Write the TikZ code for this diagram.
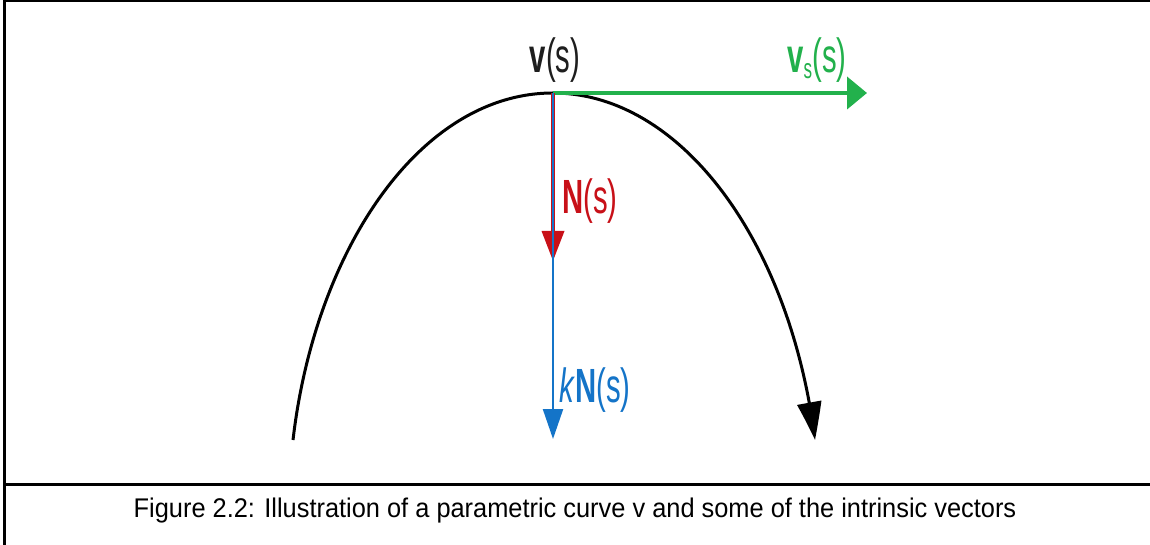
\documentclass[tikz,border=0pt]{standalone}
\usepackage{fontspec}
\setmainfont{Liberation Sans}
\usetikzlibrary{arrows.meta,bending}
\definecolor{vgreen}{RGB}{34,177,76}
\definecolor{nred}{RGB}{200,16,24}
\definecolor{kblue}{RGB}{20,116,200}
\definecolor{lblack}{RGB}{30,30,30}
\tikzset{
  lbl/.style={inner sep=0pt,font=\fontsize{48}{56}\selectfont},
  frameline/.style={line width=2.5pt,black},
}
\newcommand{\nar}[1]{\scalebox{0.61}[1]{#1}}
\begin{document}
\begin{tikzpicture}[x=1pt,y=-1pt]
\useasboundingbox (0,0) rectangle (1150,545);
\fill[white] (0,0) rectangle (1150,545);
% frame
\coordinate (tl) at (4.5,1);
\coordinate (tr) at (1150,1);
\coordinate (bl) at (4.5,545);
\coordinate (ml) at (4.5,484.5);
\coordinate (mr) at (1150,484.5);
\draw[frameline] (tr) -- (tl) -- (bl);
\draw[line width=3pt] (ml) -- (mr);
% points
\coordinate (start) at (293,440);
\coordinate (top) at (553,93);
\coordinate (endc) at (815,440);
\coordinate (vs) at (867,93);
\coordinate (ntip) at (553,261);
\coordinate (ktip) at (553,439);
% curve
\draw[line width=3pt,black,-{Triangle[length=38pt,width=24pt,bend]}]
  (start) .. controls (315,250) and (420,93) .. (top)
          .. controls (680,93) and (790,240) .. (endc);
% vectors
\draw[line width=4pt,vgreen,-{Triangle[length=20pt,width=32pt]}] (top) -- (vs);
\draw[line width=3.5pt,nred,-{Triangle[length=30pt,width=22pt]}] (top) -- (ntip);
\draw[line width=2.2pt,kblue,-{Triangle[length=30pt,width=20pt]}] (top) -- (ktip);
% labels
\node[lbl,text=lblack] (lv) at (555,60) {\nar{\textbf{v}(s)}};
\node[lbl,text=vgreen] (lvs) at (817,60) {\nar{\textbf{v}$_{\mbox{\fontsize{28}{30}\selectfont s}}$(s)}};
\node[lbl,text=nred] (ln) at (590,201) {\nar{\textbf{N}(s)}};
\node[lbl,text=kblue] (lk) at (595,390) {\nar{\textit{k}\textbf{N}(s)}};
% caption
\node[inner sep=0pt,font=\fontsize{27}{32}\selectfont] (cap) at (575,511)
  {\scalebox{0.94}[1]{Figure 2.2: Illustration of a parametric curve v and some of the intrinsic vectors}};
\end{tikzpicture}
\end{document}
